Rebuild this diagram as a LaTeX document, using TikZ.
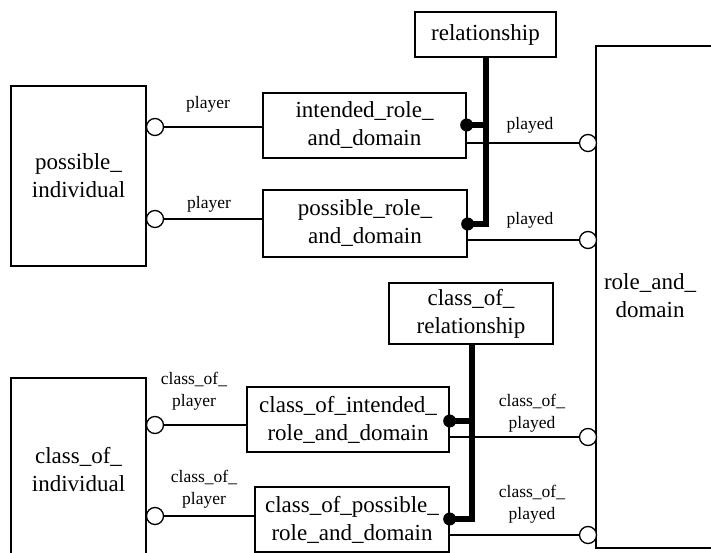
\documentclass[tikz,border=0pt]{standalone}
\usepackage{fontspec}
\setmainfont{Liberation Serif}
\begin{document}
\begin{tikzpicture}[x=1pt,y=-1pt,
  box/.style={draw,line width=1.3pt,fill=white,align=center,inner sep=0pt,
    font=\fontsize{23}{28}\selectfont},
  txt/.style={align=center,inner sep=0pt,font=\fontsize{23}{28}\selectfont},
  lbl/.style={align=center,inner sep=0pt,font=\fontsize{17.5}{22}\selectfont},
  port/.style={circle,draw,line width=1.3pt,fill=white,minimum size=17pt,inner sep=0pt},
  dot/.style={circle,fill=black,minimum size=13pt,inner sep=0pt},
  thin/.style={line width=1.3pt},
  bar/.style={line width=6pt}]
\clip (0,0) rectangle (711,553);
\fill[white] (0,0) rectangle (711,553);
% big boxes
\node[box,minimum width=135pt,minimum height=180pt] (pi) at (78.5,176) {possible\_\\individual};
\node[box,minimum width=135pt,minimum height=184pt] (ci) at (78.5,470) {class\_of\_\\individual};
\node[box,minimum width=164pt,minimum height=502pt] (rd) at (678,297) {};
\node[txt] (rdt) at (650,296) {role\_and\_\\domain};
% relationship boxes
\node[box,minimum width=141pt,minimum height=45pt] (rel) at (485.5,34.5) {relationship};
\node[box,minimum width=203pt,minimum height=65pt] (ird) at (364.5,125.5) {intended\_role\_\\and\_domain};
\node[box,minimum width=204pt,minimum height=67pt] (prd) at (365,223.5) {possible\_role\_\\and\_domain};
\node[box,minimum width=164pt,minimum height=61pt] (cor) at (471,313.5) {class\_of\_\\relationship};
\node[box,minimum width=202pt,minimum height=65pt] (cird) at (348,419.5) {class\_of\_intended\_\\role\_and\_domain};
\node[box,minimum width=194pt,minimum height=65pt] (cprd) at (352,519.5) {class\_of\_possible\_\\role\_and\_domain};
% ports on left boxes
\node[port] (pl1) at (155,127) {};
\node[port] (pl2) at (155,219) {};
\node[port] (pl3) at (155,425) {};
\node[port] (pl4) at (155,516) {};
% ports on role_and_domain
\node[port] (pd1) at (588,143) {};
\node[port] (pd2) at (588,240) {};
\node[port] (pd3) at (588,437) {};
\node[port] (pd4) at (588,535) {};
% player connectors
\draw[thin] (pl1.east) -- (pl1.east -| ird.west);
\draw[thin] (pl2.east) -- (pl2.east -| prd.west);
\draw[thin] (pl3.east) -- (pl3.east -| cird.west);
\draw[thin] (pl4.east) -- (pl4.east -| cprd.west);
% played connectors
\draw[thin] (pd1.west -| ird.east) -- (pd1.west);
\draw[thin] (pd2.west -| prd.east) -- (pd2.west);
\draw[thin] (pd3.west -| cird.east) -- (pd3.west);
\draw[thin] (pd4.west -| cprd.east) -- (pd4.west);
% relationship bars
\coordinate (b1) at (486,125);
\coordinate (b2) at (486,224);
\draw[bar] (rel.south -| b1) -- (b2);
\node[dot] (d1) at (b1 -| ird.east) {};
\node[dot] (d2) at (b2 -| prd.east) {};
\draw[bar] (d1.center) -- (b1);
\draw[bar] (d2.center) -- ([xshift=3pt]b2);
\coordinate (b3) at (472,421);
\coordinate (b4) at (472,519);
\draw[bar] (cor.south -| b3) -- (b4);
\node[dot] (d3) at (b3 -| cird.east) {};
\node[dot] (d4) at (b4 -| cprd.east) {};
\draw[bar] (d3.center) -- (b3);
\draw[bar] (d4.center) -- ([xshift=3pt]b4);
% labels
\node[lbl] (l1) at (208,104) {player};
\node[lbl] (l2) at (209,204) {player};
\node[lbl] (l3) at (530,125) {played};
\node[lbl] (l4) at (530,220) {played};
\node[lbl] (l5) at (194,391) {class\_of\_\\player};
\node[lbl] (l6) at (204,489) {class\_of\_\\player};
\node[lbl] (l7) at (532,413) {class\_of\_\\played};
\node[lbl] (l8) at (532,504) {class\_of\_\\played};
\end{tikzpicture}
\end{document}
